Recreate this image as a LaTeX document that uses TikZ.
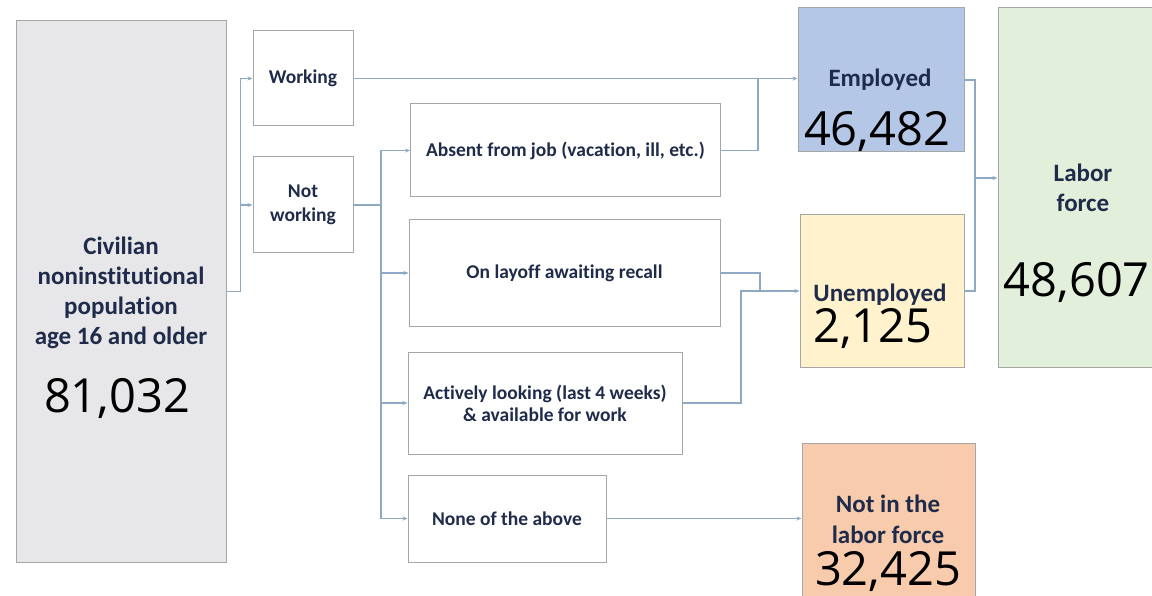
\documentclass[tikz,border=0pt]{standalone}
\usepackage{fontspec}
\setmainfont{Carlito}[Ligatures=CommonOff]
\newfontfamily\numfont{Open Sans}
\usetikzlibrary{arrows.meta,positioning,calc}
\definecolor{navy}{HTML}{1F2B4A}
\definecolor{linec}{HTML}{8DA9C4}
\definecolor{boxc}{HTML}{A6A6A6}
\definecolor{civc}{HTML}{E7E6E9}
\definecolor{empc}{HTML}{B4C7E7}
\definecolor{unec}{HTML}{FFF2CC}
\definecolor{labc}{HTML}{E2EFDA}
\definecolor{notc}{HTML}{F8CBAD}
\begin{document}
\begin{tikzpicture}[x=1pt,y=-1pt,
  conn/.style={draw=linec, line width=1.1pt},
  arr/.style={conn, -{Stealth[length=5pt,width=4pt]}},
  box/.style={draw=boxc, line width=1pt, inner sep=0pt, text=navy, align=center,
    font=\bfseries\fontsize{19.5}{23}\selectfont},
  lbl/.style={text=navy, align=center, inner sep=0pt, font=\bfseries\fontsize{25}{30}\selectfont},
  num/.style={inner sep=0pt, font=\numfont\fontsize{47}{47}\selectfont}]
  \useasboundingbox (0,0) rectangle (1152,596);

  \node[box, fill=civc, minimum width=210, minimum height=541] (civ) at (121,291.5) {};
  \node[lbl] (civt) at (121,293)
    {Civilian\\noninstitutional\\population\\age 16 and older};
  \node[num] (civn) at (117,398) {81,032};

  \node[box, minimum width=100, minimum height=95] (work) at (303,78.5) {Working};
  \node[box, minimum width=100, minimum height=96, font=\bfseries\fontsize{19.5}{24}\selectfont] (notw) at (303,205) {Not\\working};

  \node[box, minimum width=310, minimum height=93] (absent) at (565.5,150.5) {Absent from job (vacation, ill, etc.)};
  \node[box, minimum width=311, minimum height=106] (layoff) at (564.5,273) {On layoff awaiting recall};
  \node[box, minimum width=274, minimum height=102, font=\bfseries\fontsize{19.5}{22}\selectfont] (active) at (545,403) {Actively looking (last 4 weeks)\\\& available for work};
  \node[box, minimum width=198, minimum height=87] (none) at (507,518.5) {None of the above};

  \node[box, fill=empc, minimum width=166, minimum height=144] (emp) at (881,80) {};
  \node[lbl] (empt) at (880,80) {Employed};
  \node[num] (empn) at (877,132) {46,482};

  \node[box, fill=unec, minimum width=164, minimum height=152] (unemp) at (882,291) {};
  \node[lbl] (unempt) at (880,295) {Unemployed};
  \node[num] (unempn) at (873,329) {2,125};

  \node[box, fill=labc, minimum width=200, minimum height=359] (labor) at (1098,187.5) {};
  \node[lbl] (labort) at (1083,188) {Labor\\force};
  \node[num, anchor=east] (laborn) at (1150,282) {48,607};

  \node[box, fill=notc, minimum width=173, minimum height=153] (notin) at (888.5,519.5) {};
  \node[lbl, font=\bfseries\fontsize{25}{31}\selectfont] (notint) at (888,519) {Not in the\\labor force};
  \node[num] (notinn) at (888,572) {32,425};

  \coordinate (split) at (381,205);
  \coordinate (mergeE) at (758,78.5);
  \coordinate (joinU) at (760,291);
  \coordinate (mergeU) at (741,291);
  \coordinate (mergeL) at (975,178);

  \draw[arr] (civ.east) -- ++(14,0) |- (work.west);
  \draw[arr] (civ.east) -- ++(14,0) |- (notw.west);

  \draw[conn] (notw.east) -- (split);
  \draw[arr] (split) |- (absent.west);
  \draw[arr] (split) |- (layoff.west);
  \draw[arr] (split) |- (active.west);
  \draw[arr] (split) |- (none.west);

  \draw[arr] (work.east) -- (work.east -| emp.west);
  \draw[conn] (absent.east) -| (mergeE);
  \draw[conn] (layoff.east) -| (joinU);
  \draw[arr] (active.east) -| (mergeU) -- (unemp.west);
  \draw[arr] (none.east) -- (none.east -| notin.west);

  \draw[conn] (emp.east) -| (mergeL);
  \draw[conn] (unemp.east) -| (mergeL);
  \draw[arr] (mergeL) -- (mergeL -| labor.west);
\end{tikzpicture}
\end{document}
